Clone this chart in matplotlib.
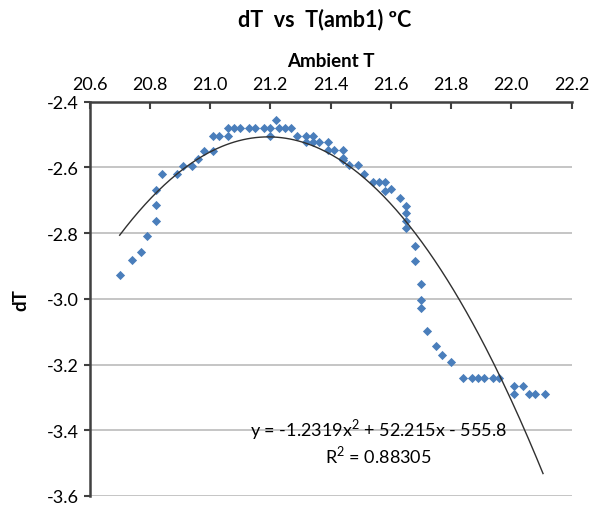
import numpy as np
import matplotlib.pyplot as plt

# ==========================================
# DATA
# ==========================================
amb_t = [20.70, 20.74, 20.77, 20.79, 20.82, 20.82, 20.82, 20.84, 20.89, 20.91,
         20.94, 20.96, 20.98, 21.01, 21.01, 21.03, 21.06, 21.06, 21.08, 21.10,
         21.13, 21.15, 21.18, 21.20, 21.20, 21.22, 21.23, 21.25, 21.27, 21.29,
         21.32, 21.34, 21.32, 21.34, 21.36, 21.39, 21.39, 21.41, 21.44, 21.44,
         21.44, 21.46, 21.49, 21.51, 21.54, 21.56, 21.58, 21.58, 21.60, 21.63,
         21.65, 21.65, 21.65, 21.65, 21.68, 21.68, 21.70, 21.70, 21.70, 21.72,
         21.75, 21.77, 21.80, 21.84, 21.87, 21.89, 21.91, 21.94, 21.96, 22.01,
         22.04, 22.01, 22.06, 22.08, 22.11]
d_t = [-2.927, -2.882, -2.858, -2.809, -2.764, -2.715, -2.670, -2.621, -2.621, -2.597,
       -2.597, -2.573, -2.551, -2.551, -2.503, -2.503, -2.503, -2.479, -2.479, -2.479,
       -2.479, -2.479, -2.479, -2.479, -2.503, -2.455, -2.479, -2.479, -2.479, -2.503,
       -2.503, -2.503, -2.524, -2.524, -2.524, -2.524, -2.548, -2.548, -2.548, -2.570,
       -2.576, -2.594, -2.594, -2.621, -2.645, -2.645, -2.645, -2.673, -2.667, -2.694,
       -2.718, -2.739, -2.764, -2.785, -2.839, -2.885, -2.955, -3.003, -3.027, -3.097,
       -3.145, -3.170, -3.191, -3.240, -3.240, -3.240, -3.240, -3.240, -3.240, -3.264,
       -3.264, -3.290, -3.290, -3.290, -3.290]

# polynomial trendline as printed on the chart
fit_coef = [-1.2319, 52.215, -555.8]
fit_range = [20.70, 22.105]
eq_label = "y = -1.2319x$^2$ + 52.215x - 555.8"
r2_label = "R$^2$ = 0.88305"

x_ticks = [20.6, 20.8, 21.0, 21.2, 21.4, 21.6, 21.8, 22.0, 22.2]
y_ticks = [-2.4, -2.6, -2.8, -3.0, -3.2, -3.4, -3.6]

plt.rcParams['font.family'] = ['Lato', 'DejaVu Sans']
plt.rcParams['mathtext.fontset'] = 'custom'
plt.rcParams['mathtext.rm'] = 'Lato'

fig = plt.figure(figsize=(5.93, 5.06), dpi=100)
ax = fig.add_axes([0.151, 0.018, 0.813, 0.779])

ax.scatter(amb_t, d_t, marker='D', s=22, color='#4a7ebb', linewidths=0, zorder=3)

xs = np.linspace(fit_range[0], fit_range[1], 200)
ax.plot(xs, np.polyval(fit_coef, xs), color='#303030', lw=1.0, zorder=4)

ax.set_xlim(x_ticks[0], x_ticks[-1])
ax.set_ylim(y_ticks[-1], y_ticks[0])
ax.set_xticks(x_ticks)
ax.set_yticks(y_ticks)
ax.set_xticklabels([f"{v:.1f}" for v in x_ticks])
ax.set_yticklabels([f"{v:.1f}" for v in y_ticks])

ax.xaxis.tick_top()
ax.xaxis.set_label_position('top')
ax.tick_params(axis='x', direction='in', length=5, width=1.5, labelsize=13, pad=7, color='#404040')
ax.tick_params(axis='y', direction='out', length=4, width=1.5, labelsize=13, pad=4, color='#404040')

for side in ['right', 'bottom']:
    ax.spines[side].set_visible(False)
for side in ['left', 'top']:
    ax.spines[side].set_linewidth(1.8)
    ax.spines[side].set_color('#404040')

ax.grid(axis='y', color='#c0c0c0', lw=1.3)
ax.set_axisbelow(True)
ax.set_clip_on(False)

ax.set_xlabel("Ambient T", fontsize=13.5, fontweight='bold', labelpad=7)
ax.set_ylabel("dT", fontsize=13.5, fontweight='bold', labelpad=12)
fig.text(0.548, 0.962, "dT  vs  T(amb1) ºC", fontsize=15.5, fontweight='bold',
         ha='center', va='center')

ax.text(21.56, -3.395, eq_label, fontsize=13, ha='center', va='center', zorder=5)
ax.text(21.56, -3.472, r2_label, fontsize=13, ha='center', va='center', zorder=5)

fig.savefig("out.png", dpi=100)
